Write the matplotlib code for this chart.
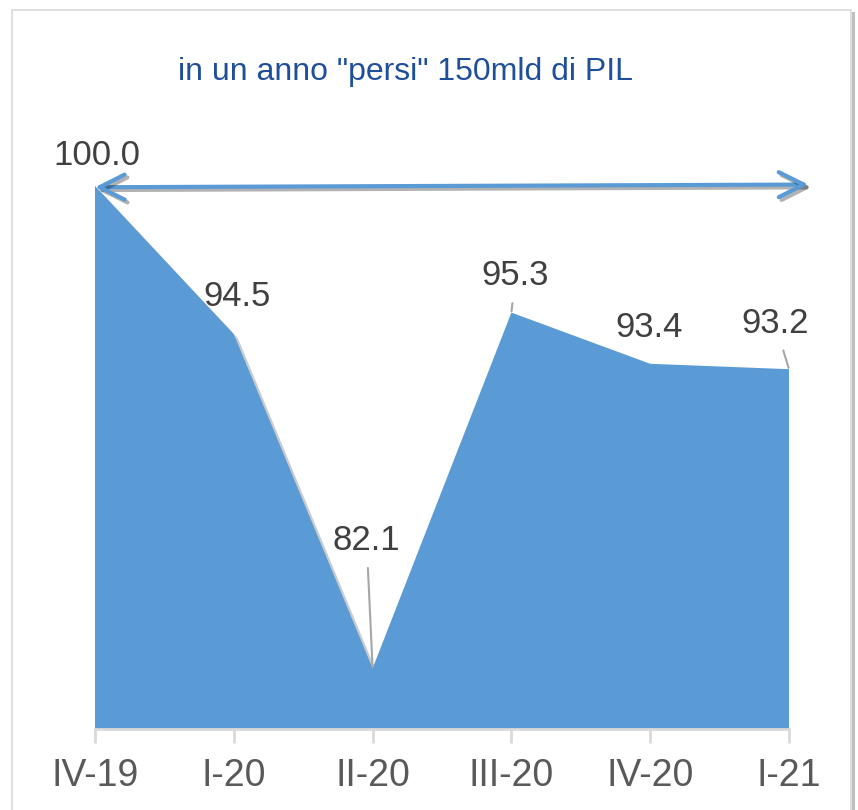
import matplotlib.pyplot as plt
import matplotlib.patheffects as pe
from matplotlib.patches import Rectangle

quarters = ['IV-19', 'I-20', 'II-20', 'III-20', 'IV-20', 'I-21']
pil = [100.0, 94.5, 82.1, 95.3, 93.4, 93.2]
title = 'in un anno "persi" 150mld di PIL'

# label offsets in pixels (dx, dy) and whether a leader line is drawn
offsets = [(2, 30), (3, 38), (-6, 128), (4, 37), (-1, 36), (-14, 46)]
leader = [False, False, True, True, False, True]

plt.rcParams['font.family'] = ['Liberation Sans', 'DejaVu Sans']

blue = '#5b9bd5'
fig = plt.figure(figsize=(8.58, 8.10), dpi=100)
fig.patches.append(Rectangle((12 / 858, -0.01), 839 / 858, 1 - 10 / 810 + 0.01,
                             transform=fig.transFigure, fill=False,
                             edgecolor='#d9d9d9', lw=1.2))
fig.patches.append(Rectangle((852 / 858, -0.01), 3 / 858, 1 - 12 / 810 + 0.01,
                             transform=fig.transFigure, color='#bfbfbf', lw=0))

ymin, ymax = 79.85, 102
ax = fig.add_axes([95 / 858, 81 / 810, 694 / 858, 597 / 810])
x = list(range(len(pil)))
poly = ax.fill_between(x, ymin, pil, color=blue, lw=0)
poly.set_path_effects([pe.SimplePatchShadow(offset=(3, -3), alpha=0.3, shadow_rgbFace='#555555'), pe.Normal()])

ax.set_xlim(0, len(pil) - 1)
ax.set_ylim(ymin, ymax)
for s in ['top', 'right', 'left']:
    ax.spines[s].set_visible(False)
ax.spines['bottom'].set_color('#d9d9d9')
ax.spines['bottom'].set_linewidth(2)
ax.set_yticks([])
ax.set_xticks(x)
ax.set_xticklabels(quarters)
ax.tick_params(axis='x', colors='#d9d9d9', length=10, width=2, pad=11,
               labelsize=27, labelcolor='#595959')

for i, v in enumerate(pil):
    dx, dy = offsets[i]
    props = None
    if leader[i]:
        props = dict(arrowstyle='-', color='#a6a6a6', lw=1.5, shrinkA=6, shrinkB=1)
    ax.annotate(f'{v:.1f}', (i, v), xytext=(dx, dy), textcoords='offset pixels',
                ha='center', va='center', fontsize=25, color='#404040',
                arrowprops=props, annotation_clip=False)

# double arrow across the year
ax.annotate('', xy=(5.14, 100.05), xytext=(0.0, 99.95),
            arrowprops=dict(arrowstyle='<->,head_length=0.9,head_width=0.45',
                            mutation_scale=20, color=blue, lw=3, shrinkA=0, shrinkB=0,
                            path_effects=[pe.SimpleLineShadow(offset=(2, -2), alpha=0.3), pe.Normal()]),
            annotation_clip=False)

fig.text(406 / 858, 1 - 72 / 810, title, ha='center', va='center',
         fontsize=23, color='#1f4e9b')

fig.savefig('out.png', dpi=100)
